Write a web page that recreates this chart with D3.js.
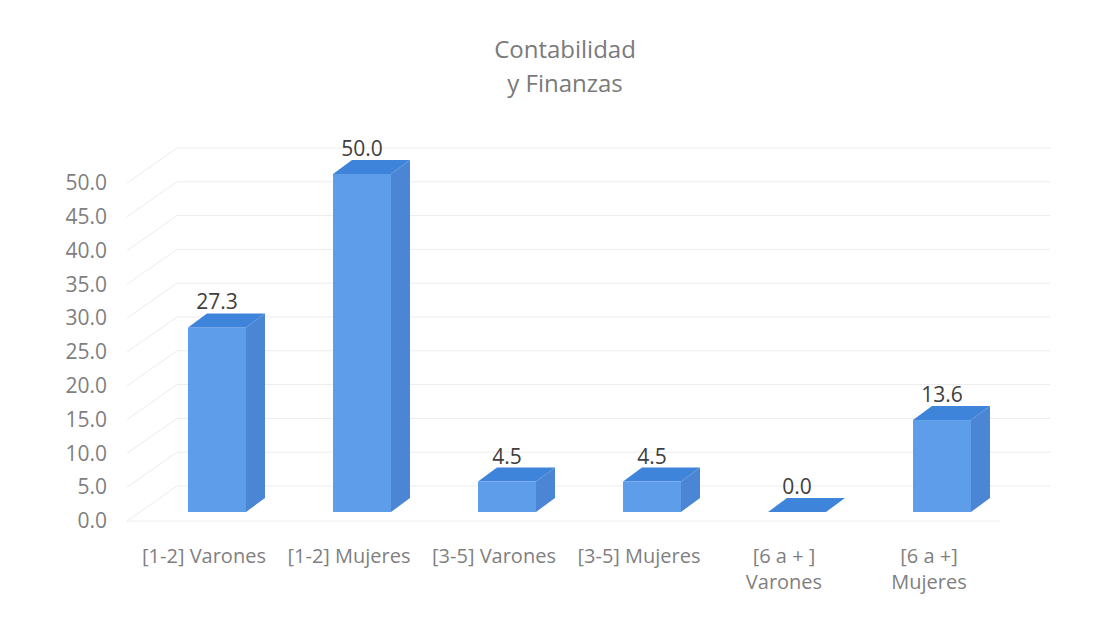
<!DOCTYPE html>
<html><head><meta charset="utf-8">
<script src="https://cdn.jsdelivr.net/npm/d3@7"></script>
<style>body{margin:0;background:#fff;}svg{display:block;font-family:"Open Sans","Noto Sans",sans-serif;}</style>
</head><body>
<svg id="c" width="1111" height="617"></svg>
<script>
const categories = ["[1-2] Varones","[1-2] Mujeres","[3-5] Varones","[3-5] Mujeres","[6 a + ]\nVarones","[6 a +]\nMujeres"];
const values = [27.3, 50.0, 4.5, 4.5, 0.0, 13.6];
const yTicks = [0,5,10,15,20,25,30,35,40,45,50];
const titleLines = ["Contabilidad","y Finanzas"];

const svg = d3.select("#c");
const W = 1111, H = 617;
svg.append("rect").attr("width",W).attr("height",H).attr("fill","#fff");

const y = d3.scaleLinear().domain([0,50]).range([521,183]);
const x = d3.scaleBand().domain(categories).range([131.5,1001.5]).paddingInner(0.6).paddingOuter(0.3);

const wallDX = 50, wallDY = -35;
const barZX = 13, barZY = -9;
const depX = 19, depY = -14;
const wallLeft = 127, wallRight = 1050;

const grid = svg.append("g").attr("stroke","#ececec").attr("stroke-width",1).attr("fill","none");
yTicks.forEach(t=>{
  grid.append("line").attr("x1",wallLeft).attr("y1",y(t)).attr("x2",wallLeft+wallDX).attr("y2",y(t)+wallDY);
  grid.append("line").attr("x1",wallLeft+wallDX).attr("y1",y(t)+wallDY).attr("x2",wallRight).attr("y2",y(t)+wallDY);
});
grid.append("line").attr("x1",wallLeft).attr("y1",y(0)).attr("x2",wallRight-wallDX).attr("y2",y(0));

const yAxis = svg.append("g").attr("transform","translate(107,0)")
  .call(d3.axisLeft(y).tickValues(yTicks).tickFormat(d3.format(".1f")).tickSize(0).tickPadding(0));
yAxis.select(".domain").remove();
yAxis.selectAll("text").attr("font-size",21).attr("fill","#7f7f7f").attr("font-family","'Open Sans','Noto Sans',sans-serif");

const colFront = "#5d9de9", colTop = "#3f84db", colSide = "#4a86d3";
const bars = svg.append("g");
categories.forEach((c,i)=>{
  const v = values[i];
  const x0 = x(c) + barZX, x1 = x0 + x.bandwidth();
  const yt = y(v) + barZY, yb = y(0) + barZY;
  const g = bars.append("g");
  g.append("path").attr("fill",colSide)
    .attr("d",`M${x1},${yb}L${x1+depX},${yb+depY}L${x1+depX},${yt+depY}L${x1},${yt}Z`);
  if (yb - yt > 0.5) g.append("rect").attr("x",x0).attr("y",yt).attr("width",x1-x0).attr("height",yb-yt).attr("fill",colFront);
  g.append("path").attr("fill",colTop)
    .attr("d",`M${x0},${yt}L${x1},${yt}L${x1+depX},${yt+depY}L${x0+depX},${yt+depY}Z`);
  svg.append("text").attr("x",(x0+x1)/2).attr("y",yt+depY-4).attr("text-anchor","middle")
    .attr("font-size",21).attr("fill","#404040").text(d3.format(".1f")(v));
});

categories.forEach(c=>{
  const lines = c.split("\n");
  const t = svg.append("text").attr("x",x(c)+x.bandwidth()/2).attr("y",563).attr("text-anchor","middle")
    .attr("font-size",20).attr("fill","#7f7f7f");
  lines.forEach((l,k)=>{
    t.append("tspan").attr("x",x(c)+x.bandwidth()/2).attr("dy",k===0?0:26).text(l);
  });
});

titleLines.forEach((l,k)=>{
  svg.append("text").attr("x",565).attr("y",58+k*34).attr("text-anchor","middle")
    .attr("font-size",24).attr("fill","#7a7a7a").text(l);
});
</script>
</body></html>
